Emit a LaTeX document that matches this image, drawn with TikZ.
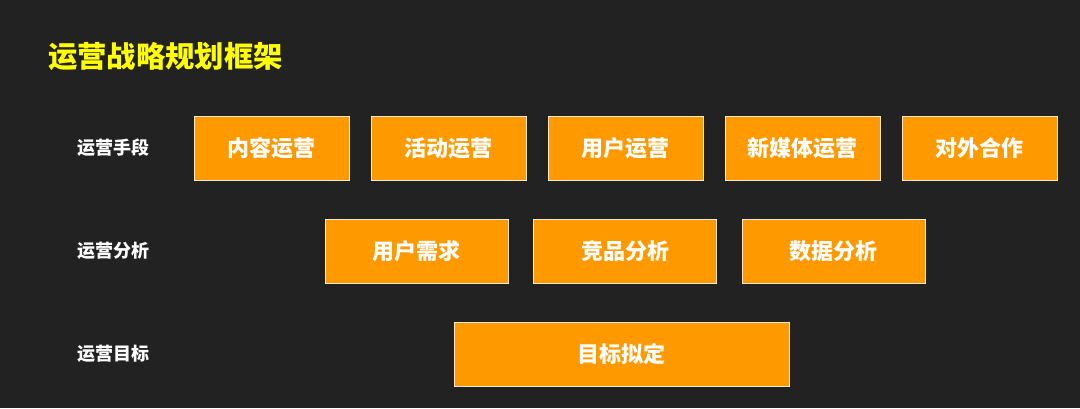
\documentclass[tikz,border=0pt]{standalone}
\usepackage{fontspec}
\setmainfont{Noto Sans CJK SC}
\usepackage{xcolor}
\usetikzlibrary{positioning}
\definecolor{bgdark}{RGB}{34, 34, 34}
\definecolor{boxorange}{RGB}{255, 153, 0}
\definecolor{titleyellow}{RGB}{255, 255, 0}

\begin{document}
\begin{tikzpicture}[x=0.75pt, y=-0.75pt]
    % Styles
    \tikzstyle{opbox}=[draw=white!80!boxorange, line width=0.6pt, fill=boxorange, minimum height=48pt, inner sep=0pt, text=white, font=\fontsize{16.5}{18}\selectfont\bfseries]
    \tikzstyle{rowlabel}=[text=white, inner sep=0pt, font=\fontsize{13.5}{15}\selectfont\bfseries]

    % Background
    \fill[bgdark] (0,0) rectangle (1080,408);
    \useasboundingbox (0,0) rectangle (1080,408);

    % Title
    \node[anchor=west, inner sep=0pt, text=titleyellow, font=\fontsize{22}{26}\selectfont\bfseries] (title) at (48,57) {运营战略规划框架};

    % Means
    \node[rowlabel] (lbmeans) at (113,148) {运营手段};
    \node[opbox, minimum width=116.25pt] (content) at (271.5,148) {内容运营};
    \node[opbox, minimum width=116.25pt] (activity) at (448.5,148) {活动运营};
    \node[opbox, minimum width=116.25pt] (user) at (625.5,148) {用户运营};
    \node[opbox, minimum width=116.25pt] (media) at (802.5,148) {新媒体运营};
    \node[opbox, minimum width=116.25pt] (partner) at (979.5,148) {对外合作};

    % Analysis
    \node[rowlabel] (lbanalysis) at (113,251) {运营分析};
    \node[opbox, minimum width=137.25pt] (demand) at (416.5,251) {用户需求};
    \node[opbox, minimum width=137.25pt] (compete) at (625,251) {竞品分析};
    \node[opbox, minimum width=137.25pt] (data) at (833.5,251) {数据分析};

    % Goals
    \node[rowlabel] (lbgoal) at (113,354) {运营目标};
    \node[opbox, minimum width=251.25pt] (goal) at (621.5,354) {目标拟定};
\end{tikzpicture}
\end{document}
